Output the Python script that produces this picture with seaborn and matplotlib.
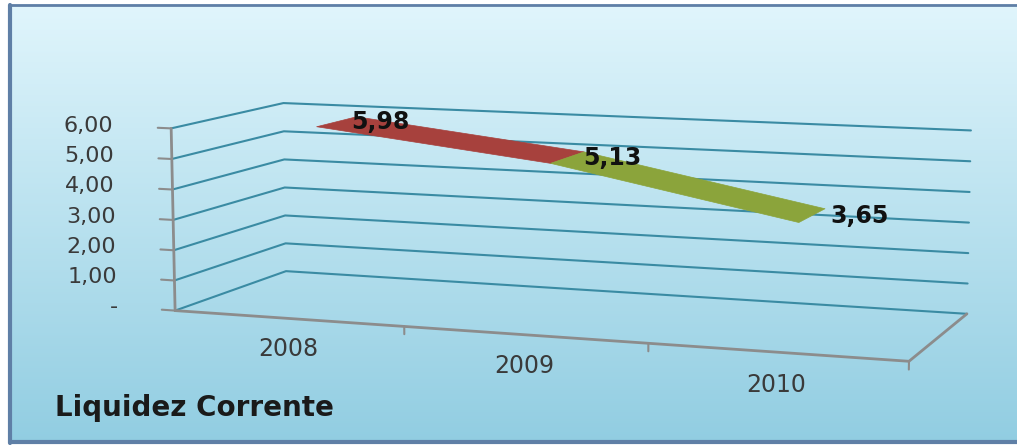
import numpy as np
import matplotlib
matplotlib.use("Agg")
import matplotlib.pyplot as plt
import seaborn as sns
from mpl_toolkits.mplot3d.art3d import Poly3DCollection
from mpl_toolkits.mplot3d import proj3d
from matplotlib.lines import Line2D

# ---- data ----
years = ["2008", "2009", "2010"]
values = [5.98, 5.13, 3.65]
value_labels = ["5,98", "5,13", "3,65"]
ytick_vals = [0, 1, 2, 3, 4, 5, 6]
ytick_labels = ["-", "1,00", "2,00", "3,00", "4,00", "5,00", "6,00"]
segment_colors = ["#a7413d", "#8ba43b"]
title = "Liquidez Corrente"

sns.set_theme(style="white")
plt.rcParams["font.family"] = ["DejaVu Sans"]

W, H = 1017, 446
fig = plt.figure(figsize=(W / 100, H / 100), dpi=100, facecolor="white")

# gradient background (pixel image, no extra axes)
top = np.array([0.88, 0.962, 0.988])
bot = np.array([0.57, 0.805, 0.885])
gh, gw = H - 8, W - 9
t = np.linspace(0, 1, gh)[:, None, None]
grad = top[None, None, :] * (1 - t) + bot[None, None, :] * t
grad = np.repeat(grad, gw, axis=1)
fig.figimage(grad, xo=9, yo=4, origin="upper", zorder=-5)
frame_c = "#5f7fa6"
fig.add_artist(Line2D([10 / W, 10 / W], [3 / H, 1 - 5 / H], color=frame_c, lw=3, transform=fig.transFigure))
fig.add_artist(Line2D([10 / W, 1], [1 - 5 / H, 1 - 5 / H], color=frame_c, lw=2, transform=fig.transFigure))
fig.add_artist(Line2D([10 / W, 1], [4 / H, 4 / H], color=frame_c, lw=3, transform=fig.transFigure))

# 3D chart in a square axes (3D axes are kept square)
cx, cy = 556 / W, 1 - 235 / H
side_w = 1.0
side_h = side_w * W / H
ax = fig.add_axes([cx - side_w / 2, cy - side_h / 2, side_w, side_h], projection="3d", computed_zorder=False)
ax.set_proj_type("persp", focal_length=0.5)
ax.view_init(elev=8.5, azim=-70)
ax.set_box_aspect((3.1, 1.05, 0.76), zoom=0.78)
ax.patch.set_alpha(0)
ax.set_axis_off()

n = len(years)
ax.set_xlim(0, n)
ax.set_ylim(0, 1)
ax.set_zlim(0, 6)
ax.set_xticks([])
ax.set_yticks([])
ax.set_zticks([])

grid_c = "#3a8ba3"
axis_c = "#8c8c8c"
for z in ytick_vals:
    ax.plot([0, 0, n], [0, 1, 1], [z, z, z], color=grid_c, lw=1.5, zorder=1, clip_on=False)
# value axis & floor
ax.plot([0, 0], [0, 0], [0, max(ytick_vals)], color=axis_c, lw=2.0, zorder=2, clip_on=False)
ax.plot([0, n, n], [0, 0, 1], [0, 0, 0], color=axis_c, lw=2.0, zorder=2, clip_on=False)
for z in ytick_vals:
    ax.plot([-0.06, 0], [0, 0], [z, z], color=axis_c, lw=1.5, zorder=2, clip_on=False)
for i in range(1, n + 1):
    ax.plot([i, i], [0, 0], [0, -0.25], color=axis_c, lw=1.5, zorder=2, clip_on=False)

# ribbon line
y0, y1 = 0.28, 0.66
for i in range(n - 1):
    verts = [[(i + 0.5, y0, values[i]), (i + 1.5, y0, values[i + 1]),
              (i + 1.5, y1, values[i + 1]), (i + 0.5, y1, values[i])]]
    pc = Poly3DCollection(verts, facecolor=segment_colors[i], edgecolor=segment_colors[i], lw=0.5, zorder=5)
    pc.set_clip_on(False)
    ax.add_collection3d(pc)

# texts: project 3D anchor points through the axes' own projection, then place in 2D
fig.canvas.draw()
M = ax.get_proj()


def put(x, y, z, s, **kw):
    px, py, _ = proj3d.proj_transform(x, y, z, M)
    ax.text2D(float(px), float(py), s, transform=ax.transData, **kw)


for z, lab in zip(ytick_vals, ytick_labels):
    put(-0.26, 0, z, lab, ha="right", va="center", fontsize=16, color="#3a3a3a")
for i, yr in enumerate(years):
    put(i + 0.5, 0, -1.0, yr, ha="center", va="center", fontsize=17, color="#3a3a3a")
for i, (v, lab) in enumerate(zip(values, value_labels)):
    put(i + 0.5 + 0.18, 0.5, v, lab, ha="center", va="center", fontsize=17,
        fontweight="bold", color="#111111", zorder=6)

fig.text(55 / W, 1 - 408 / H, title, ha="left", va="center", fontsize=20,
         fontweight="bold", color="#1a1a1a")

fig.savefig("out.png", dpi=100)
